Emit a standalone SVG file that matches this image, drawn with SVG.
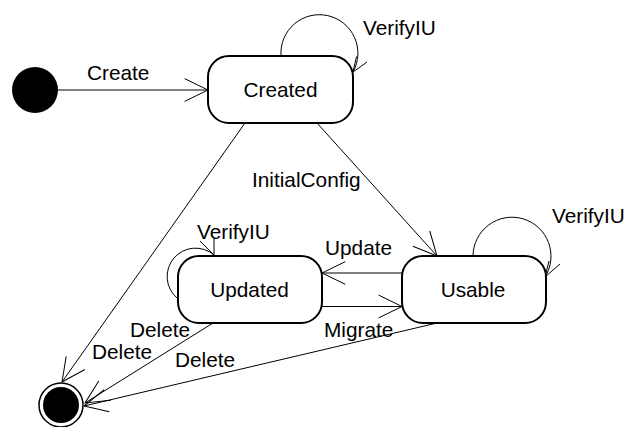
<svg xmlns="http://www.w3.org/2000/svg" width="626" height="427" viewBox="0 0 626 427">
<style>
  text { font-family: "Liberation Sans", Arial, sans-serif; font-size: 20.8px; fill: #000; }
  .state { fill: #fff; stroke: #000; stroke-width: 2; }
  .edge { fill: none; stroke: #000; stroke-width: 1; }
  .head { fill: none; stroke: #000; stroke-width: 1; }
  .mid { text-anchor: middle; }
</style>
<defs>
  <marker id="arrow" markerUnits="userSpaceOnUse" markerWidth="40" markerHeight="40" refX="0" refY="0" viewBox="-30 -20 40 40" orient="auto" overflow="visible">
    <path d="M-23.4,-11.4 L0,0 L-23.4,11.4" fill="none" stroke="#000" stroke-width="1"/>
  </marker>
</defs>
<rect width="626" height="427" fill="#fff"/>

<g id="connectors">
  <line class="edge" x1="58" y1="90" x2="208" y2="90" marker-end="url(#arrow)"/>
  <line class="edge" x1="245" y1="123" x2="62" y2="382" marker-end="url(#arrow)"/>
  <line class="edge" x1="317" y1="123" x2="437" y2="256" marker-end="url(#arrow)"/>
  <line class="edge" x1="402" y1="273" x2="322" y2="273" marker-end="url(#arrow)"/>
  <line class="edge" x1="322" y1="306.5" x2="402" y2="306.5" marker-end="url(#arrow)"/>
  <line class="edge" x1="213" y1="323" x2="85" y2="403" marker-end="url(#arrow)"/>
  <line class="edge" x1="437" y1="323" x2="84" y2="406" marker-end="url(#arrow)"/>
  <path class="edge" d="M281,56 A38.5,38.5 0 1 1 353,72"/>
  <path class="head" d="M367,62 L353,72 L356.5,56.5"/>
  <path class="edge" d="M473,256 A39,39 0 1 1 545,277"/>
  <path class="head" d="M560,264 L545,277 L549,261"/>
  <path class="edge" d="M177,298 A28,28 0 1 1 214,255"/>
  <path class="head" d="M214,238 L214,255 L200,241"/>
  <text x="87" y="80">Create</text>
  <text x="363" y="35">VerifyIU</text>
  <text x="252" y="187">InitialConfig</text>
  <text x="197" y="239">VerifyIU</text>
  <text x="325" y="255">Update</text>
  <text x="552" y="223">VerifyIU</text>
  <text x="324" y="337">Migrate</text>
  <text x="130" y="337">Delete</text>
  <text x="92" y="359">Delete</text>
  <text x="175" y="367">Delete</text>
</g>

<g id="initial">
  <circle cx="35" cy="90" r="23" fill="#000"/>
</g>
<g id="final">
  <circle cx="61" cy="405" r="22" fill="#fff" stroke="#000" stroke-width="1.5"/>
  <circle cx="61" cy="405" r="18" fill="#000"/>
</g>
<g id="created">
  <rect class="state" x="208" y="56" width="145" height="67" rx="21" ry="21"/>
  <text class="mid" x="280.5" y="97">Created</text>
</g>
<g id="updated">
  <rect class="state" x="178" y="256" width="144" height="67" rx="21" ry="21"/>
  <text class="mid" x="249.5" y="297">Updated</text>
</g>
<g id="usable">
  <rect class="state" x="402" y="256" width="144" height="67" rx="21" ry="21"/>
  <text class="mid" x="473" y="297">Usable</text>
</g>
</svg>
